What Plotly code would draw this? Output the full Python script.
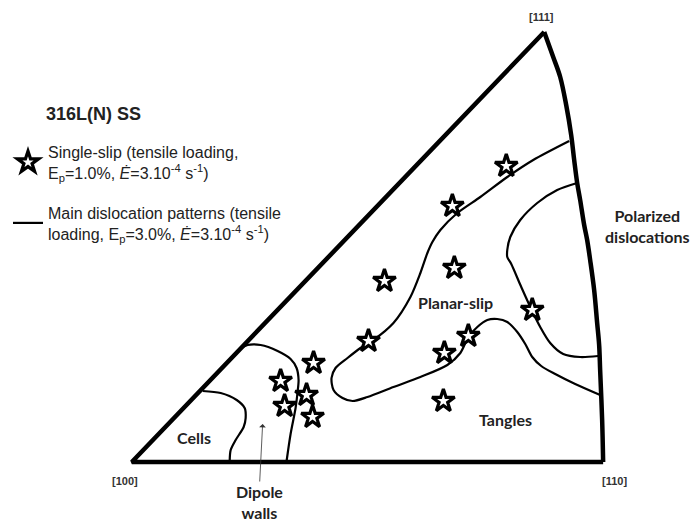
import plotly.graph_objects as go

# ---------------- data (image-plane units: x to the right, y downward) ----------------
# straight edges of the standard triangle: [111] -> [100] -> [110]
edge_x = [544, 131, 603]
edge_y = [32, 462, 462]
# curved edge [111] -> [110]
arc_x = [544, 553, 560, 566, 571, 574, 577, 580, 584, 587, 590, 594, 597, 599, 600, 602, 603]
arc_y = [32, 57, 77, 105, 135, 160, 183, 200, 225, 240, 260, 290, 323, 345, 370, 420, 462]

# boundary of "Cells" domain
cells_x = [202, 220, 236, 244, 245, 243, 235, 230, 229]
cells_y = [391, 393, 400, 408, 418, 427, 440, 450, 461]
# boundary of "Dipole walls" domain
dipole_x = [228, 238, 247, 260, 277, 290, 296, 298, 297, 295, 290, 286]
dipole_y = [362, 350, 345, 345, 351, 359, 368, 380, 392, 408, 434, 461]
# boundary of "Planar-slip" domain
planar_x = [569, 533, 507, 480, 457, 440, 432, 427, 420, 410, 393, 373, 360, 347, 335, 331,
            333, 342, 352, 367, 393, 420, 447, 460, 468, 477, 487, 497, 507, 517, 525, 532,
            541, 555, 575, 600]
planar_y = [141, 160, 177, 197, 213, 230, 242, 253, 273, 297, 323, 340, 348, 358, 368, 378,
            390, 398, 401, 397, 387, 377, 365, 353, 337, 327, 320, 319, 322, 332, 344, 357,
            366, 374, 384, 395]
# boundary of "Polarized dislocations" domain
polar_x = [577, 557, 537, 520, 510, 507, 507, 511, 521, 531, 540, 550, 563, 580, 598]
polar_y = [183, 190, 203, 220, 237, 250, 257, 264, 287, 309, 327, 343, 354, 357, 356]

# single-slip grain orientations
star_x = [506, 452, 454, 384, 532, 468, 368, 444, 313, 280, 306, 284, 312, 443]
star_y = [166, 206, 268, 281, 310, 336, 341, 353, 363, 381, 395, 406, 417, 401]

# text labels
corner_text = ["[100]", "[110]", "[111]"]
corner_x = [124, 614, 541]
corner_y = [481, 481, 17]
domain_text = ["Cells", "Planar-slip", "Tangles", "Polarized<br>dislocations", "Dipole<br>walls"]
domain_x = [193, 455, 505, 647, 259]
domain_y = [437, 302, 419, 226, 502]
title_text = "316L(N) SS"

star_name = ("Single-slip (tensile loading,<br>E<sub>p</sub>=1.0%, "
             "<i>Ė</i>=3.10<sup>-4</sup> s<sup>-1</sup>)")
line_name = ("Main dislocation patterns (tensile<br>loading, E<sub>p</sub>=3.0%, "
             "<i>Ė</i>=3.10<sup>-4</sup> s<sup>-1</sup>)")

# page has an 8px body margin; shrink the figure and offset the ranges so units = page pixels
PAD = 8
W, H = 698 - PAD, 523 - PAD

# ---------------- figure ----------------
fig = go.Figure()

fig.add_trace(go.Scatter(x=edge_x, y=edge_y, mode="lines", showlegend=False,
                         line=dict(color="black", width=4.5), hoverinfo="skip"))
fig.add_trace(go.Scatter(x=arc_x, y=arc_y, mode="lines", showlegend=False,
                         line=dict(color="black", width=4.5, shape="spline"), hoverinfo="skip"))

curves = [(cells_x, cells_y), (dipole_x, dipole_y), (planar_x, planar_y), (polar_x, polar_y)]
for i, (cx, cy) in enumerate(curves):
    fig.add_trace(go.Scatter(x=cx, y=cy, mode="lines", name=line_name,
                             legendgroup="lines", legendrank=2, showlegend=(i == 0),
                             line=dict(color="black", width=2.2, shape="spline", smoothing=0.8),
                             hoverinfo="skip"))

fig.add_trace(go.Scatter(x=star_x, y=star_y, mode="markers", name=star_name,
                         legendgroup="stars", legendrank=1,
                         marker=dict(symbol="star", size=17, color="white",
                                     line=dict(color="black", width=3.2))))

for t, x, y in zip(corner_text, corner_x, corner_y):
    fig.add_annotation(x=x, y=y, text="<b>%s</b>" % t, showarrow=False,
                       font=dict(family="Arial, Liberation Sans", size=11, color="#333"))
for t, x, y in zip(domain_text, domain_x, domain_y):
    fig.add_annotation(x=x, y=y, text="<b>%s</b>" % t, showarrow=False,
                       font=dict(family="Lato", size=16, color="#222"))

fig.add_annotation(x=43, y=114, xanchor="left", text="<b>%s</b>" % title_text, showarrow=False,
                   font=dict(family="Arial, Liberation Sans", size=18, color="#222"))

# arrow pointing into the dipole-walls domain
fig.add_annotation(x=domain_x[4] + 3, y=424, ax=domain_x[4], ay=483, xref="x", yref="y",
                   axref="x", ayref="y", text="", showarrow=True, arrowhead=1,
                   arrowsize=1.4, arrowwidth=0.8, arrowcolor="#333")

fig.update_xaxes(range=[PAD, 698], visible=False, fixedrange=True)
fig.update_yaxes(range=[523, PAD], visible=False, fixedrange=True)

fig.update_layout(
    width=W, height=H, autosize=False,
    margin=dict(l=0, r=0, t=0, b=0),
    paper_bgcolor="white", plot_bgcolor="white",
    showlegend=True,
    legend=dict(x=(7 - PAD + 0) / W, y=1 - (135 - PAD) / H, xanchor="left", yanchor="top",
                bgcolor="rgba(0,0,0,0)", tracegroupgap=16,
                font=dict(family="Arial, Liberation Sans", size=16, color="#222")),
)

fig.write_html("out.html")
